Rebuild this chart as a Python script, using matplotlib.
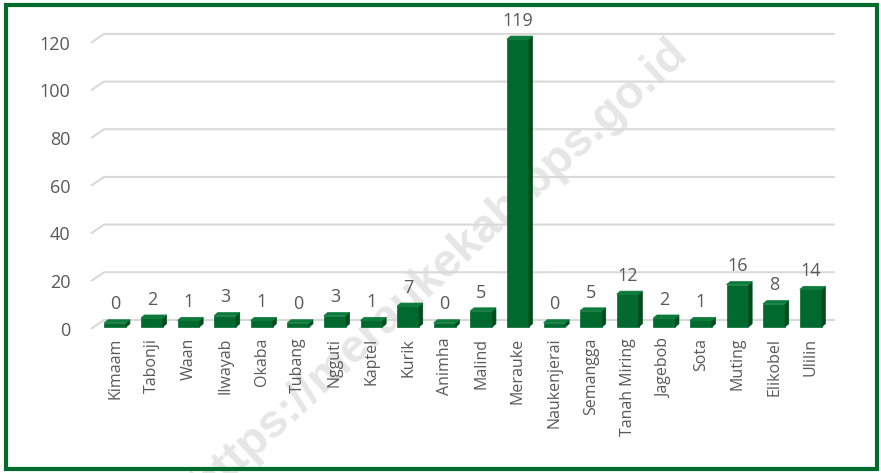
import numpy as np
import matplotlib.pyplot as plt
from matplotlib.patches import Polygon, Rectangle

# data
districts = ['Kimaam', 'Tabonji', 'Waan', 'Ilwayab', 'Okaba', 'Tubang', 'Ngguti',
             'Kaptel', 'Kurik', 'Animha', 'Malind', 'Merauke', 'Naukenjerai',
             'Semangga', 'Tanah Miring', 'Jagebob', 'Sota', 'Muting', 'Elikobel', 'Ulilin']
counts = [0, 2, 1, 3, 1, 0, 3, 1, 7, 0, 5, 119, 0, 5, 12, 2, 1, 16, 8, 14]
yticks = [0, 20, 40, 60, 80, 100, 120]

GREEN = '#006a2e'
GREEN_SIDE = '#004a1f'
GREEN_TOP = '#0b7a3a'
GRID = '#d9d9d9'
TXT = '#595959'

plt.rcParams['font.family'] = ['Open Sans', 'DejaVu Sans']

W, H = 881, 473
fig = plt.figure(figsize=(W / 100, H / 100), dpi=100)
ax = fig.add_axes([97 / W, 143.5 / H, 732 / W, 307.5 / H])
ax.set_zorder(1)
ax.set_xlim(-0.5, len(districts) - 0.5)
ax.set_ylim(-4, 125)
ax.patch.set_visible(False)
for s in ax.spines.values():
    s.set_visible(False)

# watermark, behind the chart
fig.text(440 / W, 1 - 268 / H, 'https://meraukekab.bps.go.id', fontsize=34,
         fontweight='bold', family='Liberation Sans', color='#e6e6e6',
         rotation=42.7, ha='center', va='center', zorder=0.5)

# floor/back-wall gridlines with a slanted front edge
gx_front, gx_back, gx_end = -0.664, -0.309, 19.66
g_dy = 3.7
for v in yticks:
    ax.plot([gx_front, gx_back, gx_end], [v - g_dy, v, v], color=GRID, lw=1.5,
            zorder=1, clip_on=False, solid_capstyle='butt')

ax.set_yticks([v - g_dy for v in yticks])
ax.set_yticklabels([str(v) for v in yticks])
ax.tick_params(axis='y', length=0, pad=19, labelsize=13, labelcolor=TXT)
ax.set_xticks([])

# pseudo-3D columns
bw = 0.3
ddx, ddy = 0.1, 1.3
base = -2.9
for i, v in enumerate(counts):
    top = max(v - 1.2, base + 1.0)
    x0, x1 = i - bw, i + bw
    ax.add_patch(Rectangle((x0, base), 2 * bw, top - base, facecolor=GREEN,
                           edgecolor=GREEN, lw=0.5, zorder=3))
    ax.add_patch(Polygon([(x1, base), (x1 + ddx, base + ddy), (x1 + ddx, top + ddy), (x1, top)],
                         closed=True, facecolor=GREEN_SIDE, edgecolor=GREEN_SIDE, lw=0.5, zorder=3))
    ax.add_patch(Polygon([(x0, top), (x0 + ddx, top + ddy), (x1 + ddx, top + ddy), (x1, top)],
                         closed=True, facecolor=GREEN_TOP, edgecolor=GREEN_TOP, lw=0.5, zorder=3))
    ax.text(i, v + 6.5, str(v), ha='center', va='center', fontsize=13, color=TXT,
            zorder=4, clip_on=False)
    ax.text(i, -7.5, districts[i], rotation=90, ha='center', va='top', fontsize=11.5,
            color=TXT, clip_on=False)

# green frame round the chart
fig.patches.append(Rectangle((6 / W, 4 / H), (W - 10) / W, (H - 9) / H, transform=fig.transFigure,
                             fill=False, edgecolor='#006b2d', lw=3, zorder=10))

fig.savefig('out.png', dpi=100)
